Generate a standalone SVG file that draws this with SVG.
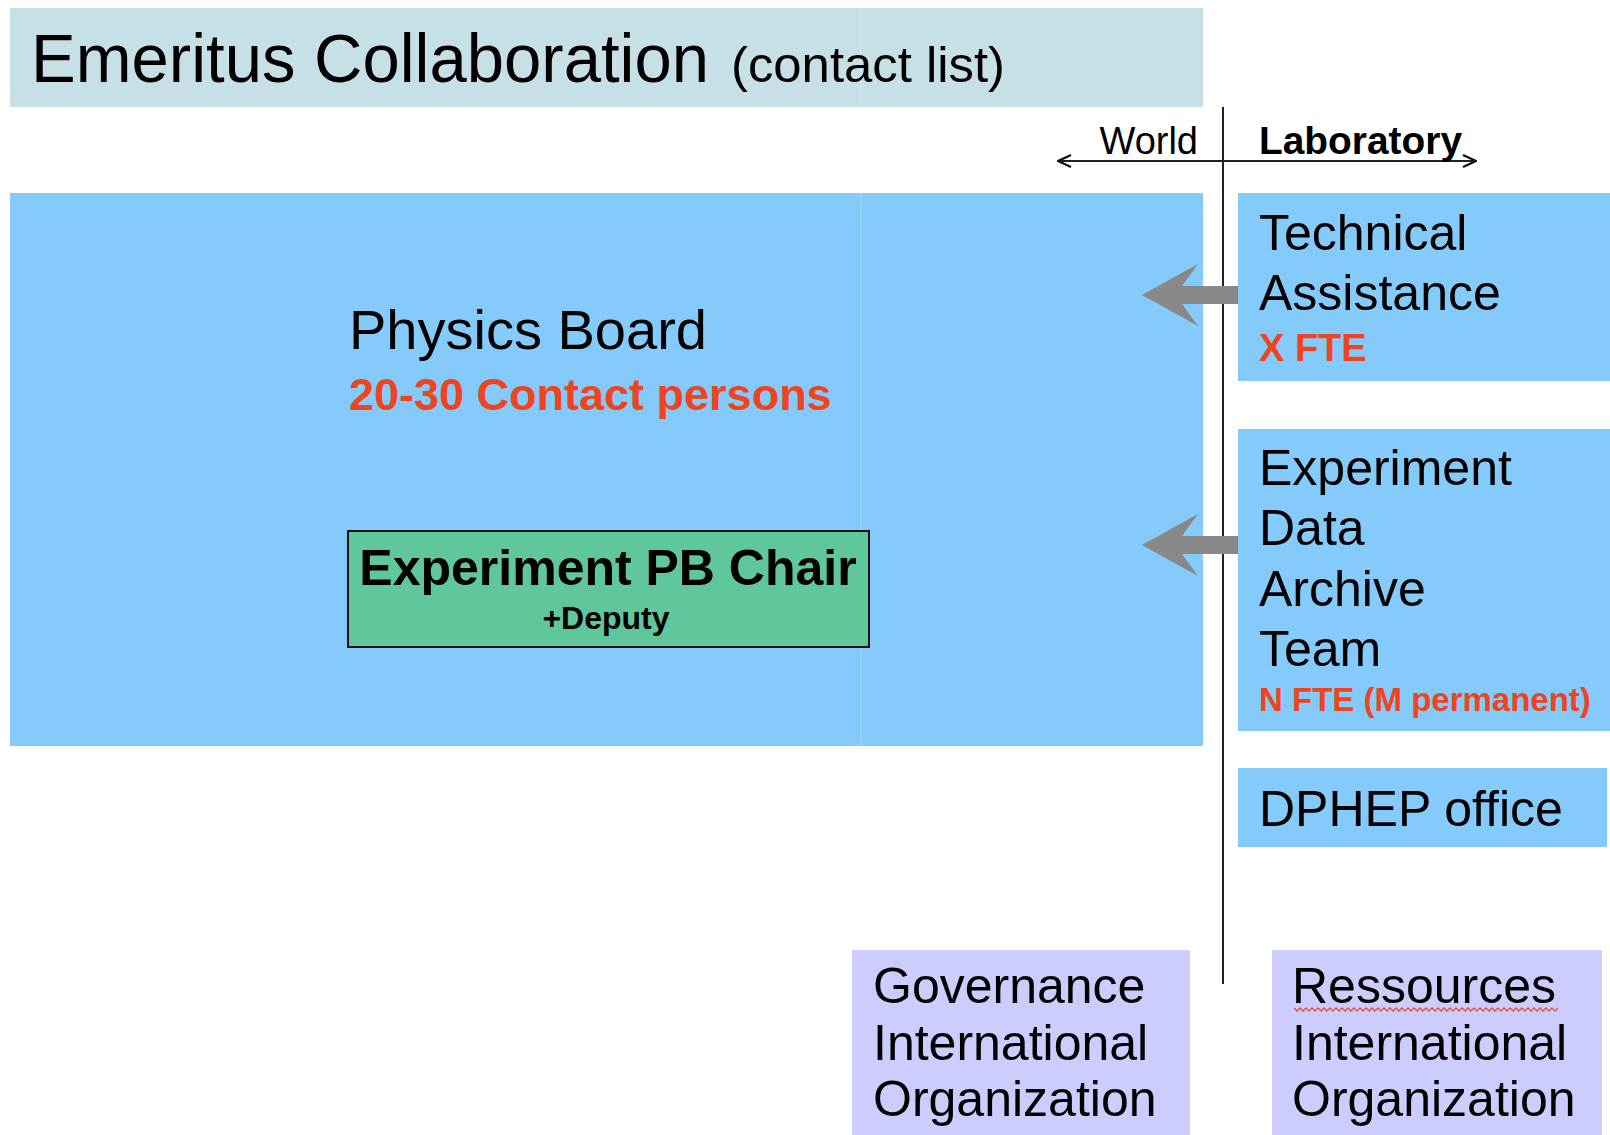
<svg xmlns="http://www.w3.org/2000/svg" width="1610" height="1135" viewBox="0 0 1610 1135">
  <style>
    text { font-family: "Liberation Sans", Arial, Helvetica, sans-serif; fill: #000; }
    .title { fill: #C6E0E5; }
    .blue { fill: #84CAFA; }
    .lav { fill: #CCCCFF; }
    .green { fill: #60C69B; stroke: #111; stroke-width: 2; }
    .big { font-size: 50px; }
    .red { fill: #EE4420; font-weight: bold; }
    .bold { font-weight: bold; }
    .axis { stroke: #222; stroke-width: 2; fill: none; }
    .flow { fill: #888888; }
    .seam { stroke: #FFFFFF; stroke-opacity: 0.35; stroke-width: 1; }
  </style>
  <defs>
    <marker id="chevron" viewBox="0 0 16 16" refX="15" refY="8" markerWidth="16" markerHeight="16" markerUnits="userSpaceOnUse" orient="auto-start-reverse">
      <path d="M2,2 L15,8 L2,14" fill="none" stroke="#111" stroke-width="2.4"/>
    </marker>
  </defs>

  <rect width="1610" height="1135" fill="#FFFFFF"/>

  <!-- header band -->
  <g id="header">
    <rect class="title" x="10" y="8" width="1193" height="99"/>
    <line class="seam" x1="861" y1="8" x2="861" y2="107"/>
    <text x="31" y="82" font-size="68" textLength="678" lengthAdjust="spacingAndGlyphs">Emeritus Collaboration</text>
    <text x="731" y="82" font-size="50" textLength="274" lengthAdjust="spacingAndGlyphs">(contact list)</text>
  </g>

  <!-- physics board -->
  <g id="physics-board">
    <rect class="blue" x="10" y="193" width="1193" height="553"/>
    <line class="seam" x1="861" y1="193" x2="861" y2="746"/>
    <text x="349" y="349" font-size="56">Physics Board</text>
    <text class="red" x="349" y="410" font-size="45">20-30 Contact persons</text>
  </g>

  <g id="pb-chair">
    <rect class="green" x="348" y="531" width="521" height="116"/>
    <text class="bold" x="608" y="585" font-size="50" text-anchor="middle">Experiment PB Chair</text>
    <text class="bold" x="606" y="629" font-size="32" text-anchor="middle">+Deputy</text>
  </g>

  <!-- laboratory side -->
  <g id="technical-assistance">
    <rect class="blue" x="1238" y="193" width="372" height="188"/>
    <text class="big" x="1259" y="250">Technical</text>
    <text class="big" x="1259" y="310">Assistance</text>
    <text class="red" x="1259" y="361" font-size="38">X FTE</text>
  </g>

  <g id="data-archive-team">
    <rect class="blue" x="1238" y="429" width="372" height="302"/>
    <text class="big" x="1259" y="485">Experiment</text>
    <text class="big" x="1259" y="545">Data</text>
    <text class="big" x="1259" y="606">Archive</text>
    <text class="big" x="1259" y="666">Team</text>
    <text class="red" x="1259" y="711" font-size="33">N FTE (M permanent)</text>
  </g>

  <g id="dphep-office">
    <rect class="blue" x="1238" y="768" width="369" height="79"/>
    <text class="big" x="1259" y="826">DPHEP office</text>
  </g>

  <g id="governance">
    <rect class="lav" x="852" y="950" width="338" height="185"/>
    <text class="big" x="873" y="1003">Governance</text>
    <text class="big" x="873" y="1060">International</text>
    <text class="big" x="873" y="1116">Organization</text>
  </g>

  <g id="ressources">
    <rect class="lav" x="1272" y="950" width="330" height="185"/>
    <text class="big" x="1292" y="1003">Ressources</text>
    <text class="big" x="1292" y="1060">International</text>
    <text class="big" x="1292" y="1116">Organization</text>
    <!-- spell-check squiggle under the first line -->
    <path d="M1294,1008 l3,3 l3,-3 l3,3 l3,-3 l3,3 l3,-3 l3,3 l3,-3 l3,3 l3,-3 l3,3 l3,-3 l3,3 l3,-3 l3,3 l3,-3 l3,3 l3,-3 l3,3 l3,-3 l3,3 l3,-3 l3,3 l3,-3 l3,3 l3,-3 l3,3 l3,-3 l3,3 l3,-3 l3,3 l3,-3 l3,3 l3,-3 l3,3 l3,-3 l3,3 l3,-3 l3,3 l3,-3 l3,3 l3,-3 l3,3 l3,-3 l3,3 l3,-3 l3,3 l3,-3 l3,3 l3,-3 l3,3 l3,-3 l3,3 l3,-3 l3,3 l3,-3 l3,3 l3,-3 l3,3 l3,-3 l3,3 l3,-3 l3,3 l3,-3 l3,3 l3,-3 l3,3 l3,-3 l3,3 l3,-3 l3,3 l3,-3 l3,3 l3,-3 l3,3 l3,-3 l3,3 l3,-3 l3,3 l3,-3 l3,3 l3,-3 l3,3 l3,-3 l3,3 l3,-3 l3,3 l3,-3" fill="none" stroke="#E8502A" stroke-width="1.3"/>
  </g>

  <!-- world / laboratory axes and flows -->
  <g id="connectors">
    <line class="axis" x1="1223" y1="107" x2="1223" y2="984"/>
    <line class="axis" x1="1058" y1="161" x2="1476" y2="161" marker-start="url(#chevron)" marker-end="url(#chevron)"/>
    <text x="1198" y="154" font-size="38" text-anchor="end">World</text>
    <text class="bold" x="1259" y="154" font-size="38" textLength="203" lengthAdjust="spacingAndGlyphs">Laboratory</text>
    <path class="flow" d="M1142,295 L1198,264 L1182,286 L1238,286 L1238,304 L1182,304 L1198,326 Z"/>
    <path class="flow" d="M1142,545 L1198,514 L1182,536 L1238,536 L1238,554 L1182,554 L1198,576 Z"/>
  </g>
</svg>
